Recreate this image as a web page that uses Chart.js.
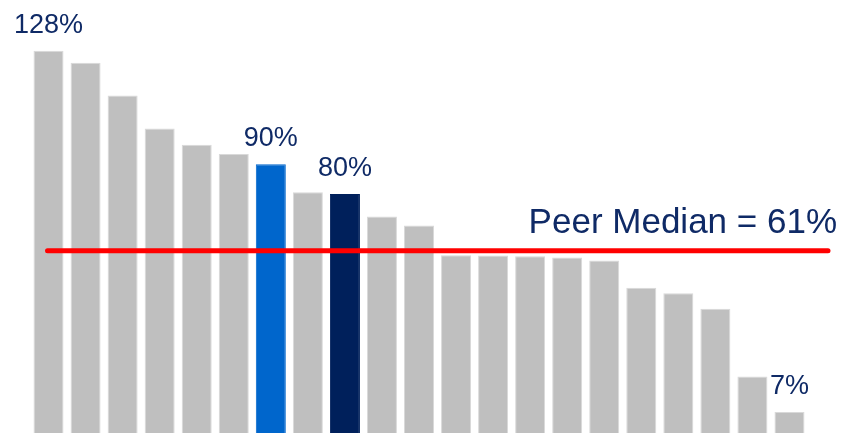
<!DOCTYPE html>
<html>
<head>
<meta charset="utf-8">
<script src="https://cdn.jsdelivr.net/npm/chart.js@4/dist/chart.umd.min.js"></script>
<style>
  html, body { margin: 0; padding: 0; background: #fff; }
  #wrap { width: 841px; height: 433px; position: relative; }
</style>
</head>
<body>
<div id="wrap"><canvas id="peerChart"></canvas></div>
<script>
// peers ranked from highest to lowest
const peers = ["P1", "P2", "P3", "P4", "P5", "P6", "P7", "P8", "P9", "P10", "P11",
  "P12", "P13", "P14", "P15", "P16", "P17", "P18", "P19", "P20", "P21"];
const values = [128, 124, 113, 102, 96.5, 93.4, 90, 80.6, 80, 72.5, 69.5,
  59.5, 59.4, 59.2, 58.8, 57.8, 48.6, 46.8, 41.6, 18.9, 7];
const highlight = { 6: "#0066CC", 8: "#00205B" };
const labelled = [0, 6, 8, 20];
const medianValue = 61;
const medianText = "Peer Median = 61%";

const barColors = values.map((v, i) => highlight[i] || "#BFBFBF");
const borderColors = values.map((v, i) => highlight[i] || "#D9D9D9");

const navy = "#0F2A66";
const font = "'Liberation Sans', Arial, sans-serif";

const overlay = {
  id: "overlay",
  afterDatasetsDraw(chart) {
    const ctx = chart.ctx;
    const x = chart.scales.x;
    const y = chart.scales.y;
    const area = chart.chartArea;

    // median line
    const my = y.getPixelForValue(medianValue);
    ctx.save();
    ctx.strokeStyle = "#FF0000";
    ctx.lineWidth = 5;
    ctx.lineCap = "round";
    ctx.beginPath();
    ctx.moveTo(x.getPixelForValue(0) - 1, my);
    ctx.lineTo(area.right + 20, my);
    ctx.stroke();

    ctx.fillStyle = navy;
    ctx.font = "35px " + font;
    ctx.textAlign = "right";
    ctx.textBaseline = "alphabetic";
    ctx.fillText(medianText, chart.width - 4, my - 18);

    // value labels above selected bars
    ctx.font = "27px " + font;
    ctx.textAlign = "center";
    labelled.forEach(i => {
      const px = x.getPixelForValue(i);
      const py = y.getPixelForValue(values[i]);
      ctx.fillText(Math.round(values[i]) + "%", px, py - 18);
    });
    ctx.restore();
  }
};

new Chart(document.getElementById("peerChart"), {
  type: "bar",
  data: {
    labels: peers,
    datasets: [{
      data: values,
      backgroundColor: barColors,
      borderColor: borderColors,
      borderWidth: 1,
      categoryPercentage: 1,
      barPercentage: 0.81
    }]
  },
  options: {
    responsive: true,
    maintainAspectRatio: false,
    animation: false,
    layout: { padding: { left: 30, right: 33, top: 0, bottom: 0 } },
    plugins: {
      legend: { display: false },
      tooltip: { enabled: false }
    },
    scales: {
      x: { display: false },
      y: { display: false, min: 0, max: 145 }
    }
  },
  plugins: [overlay]
});
</script>
</body>
</html>
